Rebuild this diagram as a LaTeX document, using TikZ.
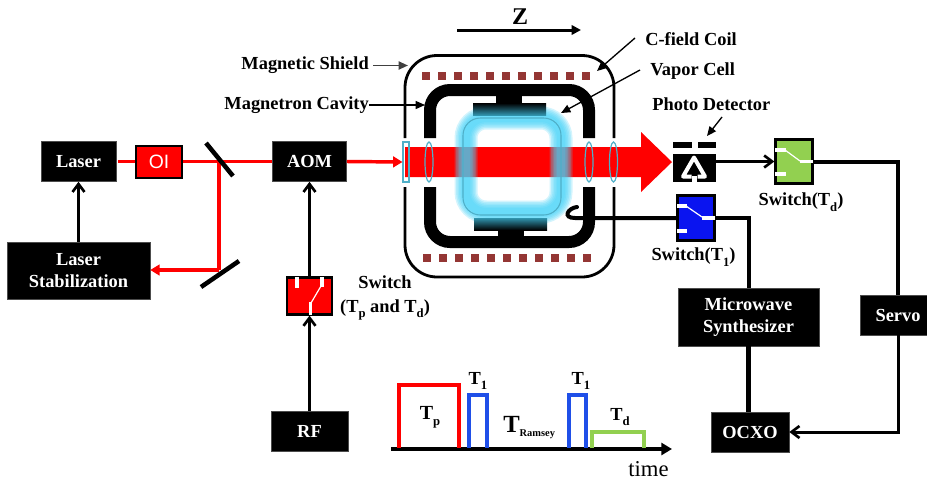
\documentclass[tikz,border=0pt]{standalone}
\usepackage{fontspec}
\setmainfont{Liberation Serif}
\newfontfamily\arialfam{Liberation Sans}
\usetikzlibrary{arrows.meta,calc}
\definecolor{brick}{HTML}{943634}
\definecolor{optic}{HTML}{4FAFC8}
\definecolor{glow}{HTML}{45D2F7}
\definecolor{swgreen}{HTML}{92D050}
\definecolor{swblue}{HTML}{0A14F0}
\definecolor{pulseblue}{HTML}{1F4FE8}
\newcommand\lab{\fontsize{13.8}{17}\selectfont\bfseries}
\newcommand\sbs[1]{\raisebox{-.32em}{\fontsize{9.5}{9.5}\selectfont #1}}
\tikzset{
  px/.style 2 args={minimum width=#1*.75pt,minimum height=#2*.75pt},
  blackbox/.style={fill=black,draw=black!70,line width=.4pt,text=white,align=center,inner sep=0pt,font=\lab},
  swbox/.style={draw=black,line width=1.7pt,inner sep=0pt},
  label/.style={inner sep=0pt,align=center,font=\lab},
  thinwire/.style={draw=black,line width=2.25pt},
  thickwire/.style={draw=black,line width=3pt},
  sigarrow/.style={thinwire,-{Straight Barb[length=6pt,width=9pt,line width=2pt]}},
  redline/.style={draw=red,line width=2.6pt},
  redarrow/.style={redline,-{Triangle[length=7pt,width=8pt]}},
  leader/.style={draw=black,line width=1pt,-{Triangle[length=7pt,width=6pt]}},
  mirror/.style={draw=black,line width=3.4pt},
  lens/.style={draw=optic,line width=.9pt},
  contact/.style={draw=white,line width=2.4pt},
  swarm/.style={draw=white,line width=.9pt},
  pulse/.style={line width=2.5pt},
  coil/.style={fill=brick},
  ring/.style={draw=glow,rounded corners=15pt,opacity=.24},
}
\begin{document}
\begin{tikzpicture}[x=.75pt,y=-.75pt]
\useasboundingbox (0,0) rectangle (927,479);
% --- beam
\fill[red] (405,147) -- (641,147) -- (641,132) -- (672,162) -- (641,192) -- (641,177) -- (405,177) -- cycle;
% --- vapour cell glow
\foreach \w in {23,20,17,14,11,8}
  \draw[ring,line width=\w*.75pt] (466,118) rectangle (561,212);
\draw[optic,line width=.8pt,rounded corners=13pt] (463,118) rectangle (561,215);
% --- magnetic shield
\draw[black,line width=2.1pt,rounded corners=24pt] (405,138) -- (405,55.5) -- (614,55.5) -- (614,138);
\draw[black,line width=2.1pt,rounded corners=24pt] (405,187) -- (405,277) -- (614,277) -- (614,187);
% --- cavity
\draw[black,line width=9pt,rounded corners=15pt] (430,138) -- (430,90) -- (589,90) -- (589,138);
\draw[black,line width=9pt,rounded corners=15pt] (430,187) -- (430,242) -- (589,242) -- (589,187);
\fill[black] (496,90) rectangle (522,104);
\fill[black] (498,229) rectangle (524,242);
\shade[top color=black,middle color=black,bottom color=glow!70!black] (473,103) rectangle (546,115);
\shade[top color=glow!70!black,middle color=black,bottom color=black] (474,218) rectangle (547,230);
% --- coils
\foreach \i in {0,...,10}
  \fill[coil] ({422+16*\i},72) rectangle +(8,8);
\foreach \i in {0,...,10}
  \fill[coil] ({423+16*\i},254) rectangle +(8,8);
% --- optics in the beam
\draw[lens] (429,162) ellipse [x radius=4,y radius=20];
\draw[lens] (589,162) ellipse [x radius=4,y radius=20];
\draw[lens] (613.5,162) ellipse [x radius=4,y radius=20];
\node[draw=optic,line width=.8pt,inner sep=0pt,px={6}{40}] (slab) at (406,162) {};
% --- black boxes
\node[blackbox,px={75}{40}] (laser) at (78.5,161.5) {Laser};
\node[blackbox,px={143}{57}] (stab) at (78.5,270.5) {Laser\\Stabilization};
\node[blackbox,px={74}{40}] (aom) at (309.5,161.5) {AOM};
\node[blackbox,px={77}{40}] (rf) at (309.5,431) {RF};
\node[blackbox,px={141}{58}] (synth) at (748.5,317) {Microwave\\Synthesizer};
\node[blackbox,px={76}{40}] (servo) at (898,315) {Servo};
\node[blackbox,px={78}{40}] (ocxo) at (750,432) {OCXO};
% --- OI
\node[fill=red,draw=black,line width=1.5pt,inner sep=0pt,px={46}{32},text=white,font=\arialfam\fontsize{14.5}{17}\selectfont] (oi) at (159,161.5) {OI};
% --- switches
\node[swbox,fill=red,px={45}{37}] (swrf) at (309.5,296) {};
\node[swbox,fill=swgreen,px={37}{44}] (swg) at (794,161.5) {};
\node[swbox,fill=swblue,px={37}{45}] (swb) at (696,218) {};
% red switch contacts
\draw[contact] (297,277) -- (297,288);
\draw[contact] (322,277) -- (322,287);
\draw[contact,line width=2.6pt] (310.5,302) -- (310.5,315);
\draw[swarm] (311,303) -- (321,286);
% green switch contacts
\draw[contact] (775,150) -- (786,150);
\draw[contact] (775,174) -- (786,174);
\draw[contact] (800,161.5) -- (813,161.5);
\draw[swarm] (785,150) -- (800,161);
% blue switch contacts
\draw[contact] (677,206) -- (687,206);
\draw[contact] (677,231) -- (687,231);
\draw[contact] (702,218) -- (715,218);
\draw[swarm] (686,206) -- (702,217);
% --- photo detector
\node[fill=black,inner sep=0pt,px={43}{28}] (pd) at (694.5,168) {};
\fill[black] (673,142) rectangle (692,148);
\fill[black] (698,142) rectangle (716,148);
\draw[white,line width=3pt,line join=round] (691.5,176.5) -- (683,176.5) -- (694,157.5) -- (705,176.5) -- (697.5,176.5);
\fill[white] (692,176) rectangle (697,182);
% --- red optical paths
\coordinate (m1) at (219,161.5);
\coordinate (m2) at (219,270);
\draw[redline] (laser.east) ++(2,0) -- (oi.west);
\draw[redline] (oi.east) -- (m1) -- (aom.west);
\draw[redline] (m1) -- (m2);
\draw[redarrow] (m2) -- (stab.east |- m2);
\draw[redarrow] (aom.east) -- (slab.west);
% --- mirrors
\draw[mirror] (206,143) -- (233,176);
\draw[mirror] (201,287) -- (239,261);
% --- signal connectors
\draw[sigarrow] (stab.north) -- (laser.south);
\draw[sigarrow] (swrf.north) -- (aom.south);
\draw[sigarrow] (rf.north) -- (swrf.south);
\draw[sigarrow] (swg.west -| pd.east) -- (swg.west);
\draw[thickwire] (swg.east) -| (servo.north);
\draw[sigarrow] (servo.south) |- (ocxo.east);
\draw[thickwire] (swb.east) -| (synth.north);
\draw[draw=black,line width=3.6pt] (synth.south) -- (synth.south |- ocxo.north);
\coordinate (hookend) at (577,207);
\draw[thickwire,line cap=round] (hookend) .. controls (568,208) and (562,218) .. (575,218) -- (swb.west);
% --- leaders
\coordinate (zl) at (457,30);
\coordinate (zr) at (581,30);
\draw[thinwire,-{Triangle[length=7pt,width=7pt]}] (zl) -- (zr);
\node[inner sep=0pt,font=\fontsize{18}{20}\selectfont\bfseries] (z) at (520,17) {Z};
\node[label,anchor=west] (cfield) at (645,39) {C-field Coil};
\node[label,anchor=west] (vapor) at (650,71) {Vapor Cell};
\node[label,anchor=west] (photo) at (652,104) {Photo Detector};
\node[label,anchor=east] (shield) at (369,65.5) {Magnetic Shield};
\node[label,anchor=east] (cavity) at (369,105) {Magnetron Cavity};
\coordinate (ct) at (597,71);
\coordinate (vt) at (561,113);
\coordinate (pt) at (707,136);
\coordinate (st) at (408,65.5);
\coordinate (mt) at (425,105);
\draw[leader] (635,38) -- (ct);
\draw[leader] (640,70) -- (vt);
\draw[leader] (722,117) -- (pt);
\draw[leader,draw=black!75,line width=1.4pt] (shield.east) ++(4,0) -- (st);
\draw[leader] (cavity.east) -- (mt);
% --- switch labels
\node[label] (l1) at (385,298) {Switch\\[1pt](T\sbs{p} and T\sbs{d})};
\node[label] (l2) at (801,202) {Switch(T\sbs{d})};
\node[label] (l3) at (693.5,257) {Switch(T\sbs{1})};
% --- timing diagram
\coordinate (t0) at (391,449);
\coordinate (t1) at (672,449);
\draw[black,line width=2.6pt,-{Triangle[length=8pt,width=9pt]}] (t0) -- (t1);
\draw[pulse,red] (399,448) -- (399,385) -- (459,385) -- (459,448);
\draw[pulse,pulseblue] (469,448) -- (469,395) -- (487,395) -- (487,448);
\draw[pulse,pulseblue] (569,448) -- (569,395) -- (586,395) -- (586,448);
\draw[pulse,swgreen] (592,448) -- (592,432) -- (644,432) -- (644,448);
\node[label,font=\fontsize{15}{17}\selectfont\bfseries] (tp) at (430,417) {T\sbs{p}};
\node[label] (t1a) at (478,381) {T\sbs{1}};
\node[label] (t1b) at (581,381) {T\sbs{1}};
\node[label] (td) at (620,417) {T\sbs{d}};
\node[inner sep=0pt,anchor=base west,font=\bfseries] (tr) at (503,432) {\fontsize{18.5}{20}\selectfont T\raisebox{-.2em}{\fontsize{7.8}{9}\selectfont Ramsey}};
\node[inner sep=0pt,anchor=base west,font=\fontsize{17}{20}\selectfont] (time) at (628,476) {time};
\end{tikzpicture}
\end{document}
